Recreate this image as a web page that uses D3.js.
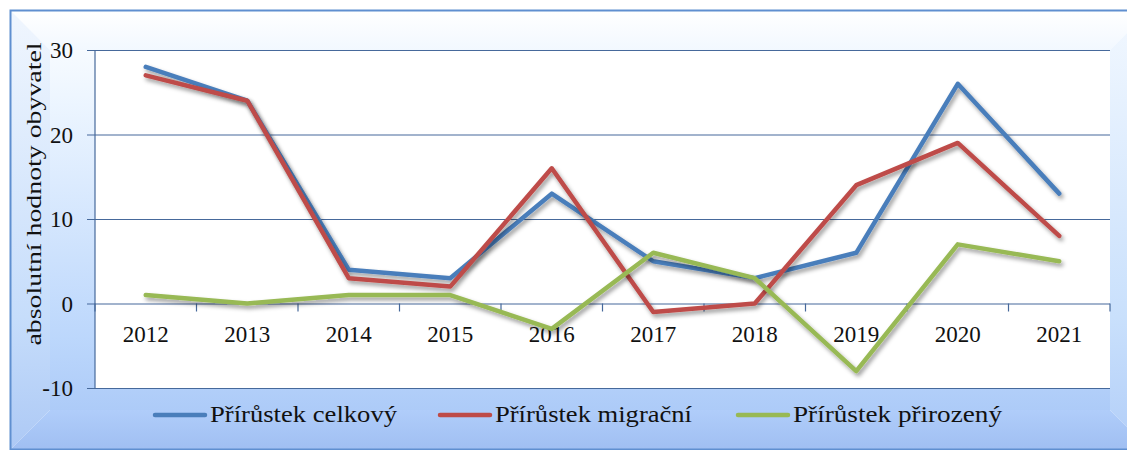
<!DOCTYPE html>
<html><head><meta charset="utf-8">
<script src="https://cdn.jsdelivr.net/npm/d3@7"></script>
<style>html,body{margin:0;padding:0;background:#fff;overflow:hidden}
svg text{font-family:"Liberation Serif","DejaVu Serif",serif;}</style>
</head><body>
<svg id="c" width="1127" height="450"></svg>
<script>
const years = ["2012","2013","2014","2015","2016","2017","2018","2019","2020","2021"];
const celkovy = [28, 24, 4, 3, 13, 5, 3, 6, 26, 13];
const migracni = [27, 24, 3, 2, 16, -1, 0, 14, 19, 8];
const prirozeny = [1, 0, 1, 1, -3, 6, 3, -8, 7, 5];
const seriesNames = ["Přírůstek celkový", "Přírůstek migrační", "Přírůstek přirozený"];
const yTicks = [-10, 0, 10, 20, 30];
const axisTitle = "absolutní hodnoty obyvatel";

const svg = d3.select("#c");
const defs = svg.append("defs");
function lg(id, stops, vertical=true){
  const g = defs.append("linearGradient").attr("id", id)
    .attr("x1",0).attr("y1",0).attr("x2", vertical?0:1).attr("y2", vertical?1:0);
  stops.forEach(s=>g.append("stop").attr("offset",s[0]).attr("stop-color",s[1]));
}
lg("gCenter", [[0,"#f7fbff"],[0.15,"#ecf5ff"],[0.8,"#bcd7fc"],[1,"#adcbf8"]]);
lg("gTop", [[0,"#ffffff"],[1,"#f2f8ff"]]);
lg("gLeft", [[0,"#f0f6fe"],[0.7,"#c6ddfb"],[1,"#adc9f5"]]);
lg("gRight", [[0,"#f2f8ff"],[0.7,"#c9e0fc"],[1,"#b2cef8"]]);
lg("gBottom", [[0,"#b0cdfa"],[1,"#a0bff2"]]);
const f = defs.append("filter").attr("id","sh").attr("x","-10%").attr("y","-20%").attr("width","130%").attr("height","150%");
f.append("feDropShadow").attr("dx",2).attr("dy",3).attr("stdDeviation",2)
  .attr("flood-color","#000").attr("flood-opacity",0.4);

// frame with bevel
const X0=11, Y0=11, X1=1149, Y1=449, IX0=50, IY0=50, IX1=1110, IY1=410;
svg.append("rect").attr("x",IX0).attr("y",IY0).attr("width",IX1-IX0).attr("height",IY1-IY0).attr("fill","url(#gCenter)");
svg.append("polygon").attr("points",`${X0},${Y0} ${X1},${Y0} ${IX1},${IY0} ${IX0},${IY0}`).attr("fill","url(#gTop)");
svg.append("polygon").attr("points",`${X0},${Y0} ${IX0},${IY0} ${IX0},${IY1} ${X0},${Y1}`).attr("fill","url(#gLeft)");
svg.append("polygon").attr("points",`${X1},${Y0} ${X1},${Y1} ${IX1},${IY1} ${IX1},${IY0}`).attr("fill","url(#gRight)");
svg.append("polygon").attr("points",`${X0},${Y1} ${IX0},${IY1} ${IX1},${IY1} ${X1},${Y1}`).attr("fill","url(#gBottom)");
svg.append("rect").attr("x",X0-0.5).attr("y",Y0-0.5).attr("width",X1-X0+1).attr("height",Y1-Y0+1)
  .attr("fill","none").attr("stroke","#5f8fd0").attr("stroke-width",2);

// plot area
const L=95, R=1110, T=50, B=388;
svg.append("rect").attr("x",L).attr("y",T).attr("width",R-L).attr("height",B-T).attr("fill","#fff");

const x = d3.scaleBand().domain(years).range([L,R]).padding(0);
const y = d3.scaleLinear().domain([-10,30]).range([B,T]);
const gridC = "#46699b";

// gridlines (with left ticks)
svg.append("g").attr("transform",`translate(${L},0)`)
  .call(d3.axisLeft(y).tickValues(yTicks).tickSize(8).tickSizeInner(-(R-L)).tickPadding(0).tickFormat(""))
  .call(g=>g.select(".domain").remove())
  .call(g=>g.selectAll("line").attr("stroke",gridC).attr("stroke-width",1.2).attr("x1",-8));
svg.append("line").attr("x1",L).attr("x2",L).attr("y1",T).attr("y2",B).attr("stroke",gridC).attr("stroke-width",1.2);
svg.append("g").selectAll("text").data(yTicks).join("text")
  .attr("x",73).attr("y",d=>y(d)).attr("dy","0.35em").attr("text-anchor","end")
  .attr("font-size",23).attr("fill","#111").text(d=>d);

// x axis at zero with boundary ticks
const bounds = years.map(d=>x(d)).concat([R]);
svg.append("g").selectAll("line").data(bounds).join("line")
  .attr("x1",d=>d).attr("x2",d=>d).attr("y1",y(0)).attr("y2",y(0)+8)
  .attr("stroke",gridC).attr("stroke-width",1.2);
svg.append("g").selectAll("text").data(years).join("text")
  .attr("x",d=>x(d)+x.bandwidth()/2).attr("y",342).attr("text-anchor","middle")
  .attr("font-size",23).attr("fill","#111").text(d=>d);

// axis title
svg.append("text").attr("transform","translate(41,194) rotate(-90)")
  .attr("text-anchor","middle").attr("font-size",20).attr("fill","#111")
  .attr("textLength",303).attr("lengthAdjust","spacingAndGlyphs").text(axisTitle);

// lines
const colors = ["#4a7ebb","#be4b48","#98b954"];
const data = [celkovy, migracni, prirozeny];
const line = d3.line().x((d,i)=>x(years[i])+x.bandwidth()/2).y(d=>y(d));
data.forEach((s,k)=>{
  svg.append("path").datum(s).attr("d",line).attr("fill","none")
    .attr("stroke",colors[k]).attr("stroke-width",4.5).attr("stroke-linejoin","round").attr("stroke-linecap","round")
    .attr("filter","url(#sh)");
});

// legend
const legX = [155, 440, 738];
const legW = [187, 197, 209];
const lg2 = svg.append("g");
seriesNames.forEach((n,k)=>{
  lg2.append("line").attr("x1",legX[k]).attr("x2",legX[k]+50).attr("y1",415).attr("y2",415)
    .attr("stroke",colors[k]).attr("stroke-width",4.5).attr("stroke-linecap","round");
  lg2.append("text").attr("x",legX[k]+55).attr("y",422).attr("font-size",23)
    .attr("fill","#111").attr("textLength",legW[k]).attr("lengthAdjust","spacingAndGlyphs").text(n);
});
</script>
</body></html>
